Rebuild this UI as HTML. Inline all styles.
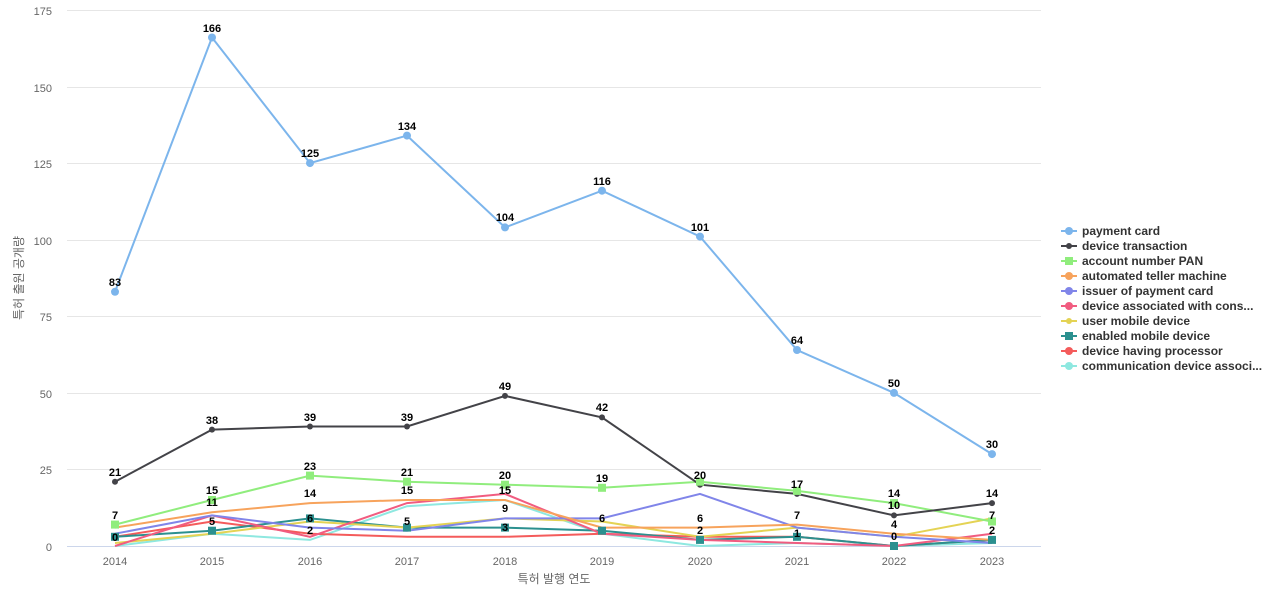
<!DOCTYPE html><html><head><meta charset="utf-8"><style>body{margin:0;background:#fff}svg{font-family:"Liberation Sans","Noto Sans CJK KR",sans-serif}</style></head><body>
<svg width="1280" height="600" xmlns="http://www.w3.org/2000/svg">
<g stroke="#e6e6e6" stroke-width="1">
<line x1="67" x2="1041" y1="10.5" y2="10.5"/><line x1="67" x2="1041" y1="87.5" y2="87.5"/><line x1="67" x2="1041" y1="163.5" y2="163.5"/><line x1="67" x2="1041" y1="240.5" y2="240.5"/><line x1="67" x2="1041" y1="316.5" y2="316.5"/><line x1="67" x2="1041" y1="393.5" y2="393.5"/><line x1="67" x2="1041" y1="469.5" y2="469.5"/>
</g>
<line x1="67" x2="1041" y1="546.5" y2="546.5" stroke="#ccd6eb"/>
<g font-size="11" fill="#666" text-anchor="end">
<text x="52" y="15">175</text><text x="52" y="92">150</text><text x="52" y="168">125</text><text x="52" y="245">100</text><text x="52" y="321">75</text><text x="52" y="398">50</text><text x="52" y="474">25</text><text x="52" y="551">0</text>
</g>
<g font-size="11" fill="#666" text-anchor="middle">
<text x="115" y="565">2014</text><text x="212" y="565">2015</text><text x="310" y="565">2016</text><text x="407" y="565">2017</text><text x="505" y="565">2018</text><text x="602" y="565">2019</text><text x="700" y="565">2020</text><text x="797" y="565">2021</text><text x="894" y="565">2022</text><text x="992" y="565">2023</text>
</g>
<text x="554" y="583" font-size="12" fill="#666" text-anchor="middle">특허 발행 연도</text>
<text transform="translate(23,278) rotate(-90)" font-size="12" fill="#666" text-anchor="middle">특허 출원 공개량</text>
<g fill="none" stroke-width="2">
<polyline stroke="#8ee8e0" points="115,546 212,533.7 310,539.9 407,506.2 505,500 602,533.7 700,546 797,543 894,546 992,543"/>
<polyline stroke="#f45b5b" points="115,536.8 212,521.5 310,533.7 407,536.8 505,536.8 602,533.7 700,536.8 797,536.8 894,546 992,539.9"/>
<polyline stroke="#2b908f" points="115,536.8 212,530.7 310,518.4 407,527.6 505,527.6 602,530.7 700,539.9 797,536.8 894,546 992,539.9"/>
<polyline stroke="#e4d354" points="115,543 212,533.7 310,521.5 407,527.6 505,518.4 602,521.5 700,536.8 797,527.6 894,536.8 992,518.4"/>
<polyline stroke="#f15c80" points="115,546 212,515.4 310,536.8 407,503.1 505,493.9 602,533.7 700,539.9 797,543 894,546 992,533.7"/>
<polyline stroke="#8085e9" points="115,533.7 212,515.4 310,527.6 407,530.7 505,518.4 602,518.4 700,493.9 797,527.6 894,536.8 992,543"/>
<polyline stroke="#f7a35c" points="115,527.6 212,512.3 310,503.1 407,500 505,500 602,527.6 700,527.6 797,524.6 894,533.7 992,539.9"/>
<polyline stroke="#90ed7d" points="115,524.6 212,500 310,475.6 407,481.7 505,484.7 602,487.8 700,481.7 797,490.9 894,503.1 992,521.5"/>
<polyline stroke="#434348" points="115,481.7 212,429.6 310,426.5 407,426.5 505,395.9 602,417.4 700,484.7 797,493.9 894,515.4 992,503.1"/>
<polyline stroke="#7cb5ec" points="115,291.8 212,37.5 310,163.1 407,135.6 505,227.4 602,190.7 700,236.6 797,350 894,392.9 992,454.1"/>
</g>
<g fill="#7cb5ec"><circle cx="115" cy="291.8" r="4"/><circle cx="212" cy="37.5" r="4"/><circle cx="310" cy="163.1" r="4"/><circle cx="407" cy="135.6" r="4"/><circle cx="505" cy="227.4" r="4"/><circle cx="602" cy="190.7" r="4"/><circle cx="700" cy="236.6" r="4"/><circle cx="797" cy="350" r="4"/><circle cx="894" cy="392.9" r="4"/><circle cx="992" cy="454.1" r="4"/></g>
<g fill="#434348"><circle cx="115" cy="481.7" r="3"/><circle cx="212" cy="429.6" r="3"/><circle cx="310" cy="426.5" r="3"/><circle cx="407" cy="426.5" r="3"/><circle cx="505" cy="395.9" r="3"/><circle cx="602" cy="417.4" r="3"/><circle cx="700" cy="484.7" r="3"/><circle cx="797" cy="493.9" r="3"/><circle cx="894" cy="515.4" r="3"/><circle cx="992" cy="503.1" r="3"/></g>
<g fill="#90ed7d"><rect x="111" y="520.6" width="8" height="8"/><rect x="208" y="496" width="8" height="8"/><rect x="306" y="471.6" width="8" height="8"/><rect x="403" y="477.7" width="8" height="8"/><rect x="501" y="480.7" width="8" height="8"/><rect x="598" y="483.8" width="8" height="8"/><rect x="696" y="477.7" width="8" height="8"/><rect x="793" y="486.9" width="8" height="8"/><rect x="890" y="499.1" width="8" height="8"/><rect x="988" y="517.5" width="8" height="8"/></g>
<g fill="#2b908f"><rect x="111" y="532.8" width="8" height="8"/><rect x="208" y="526.7" width="8" height="8"/><rect x="306" y="514.4" width="8" height="8"/><rect x="403" y="523.6" width="8" height="8"/><rect x="501" y="523.6" width="8" height="8"/><rect x="598" y="526.7" width="8" height="8"/><rect x="696" y="535.9" width="8" height="8"/><rect x="793" y="532.8" width="8" height="8"/><rect x="890" y="542" width="8" height="8"/><rect x="988" y="535.9" width="8" height="8"/></g>
<g font-size="11" font-weight="bold" fill="#000" text-anchor="middle">
<text x="115" y="286">83</text><text x="212" y="32">166</text><text x="310" y="157">125</text><text x="407" y="130">134</text><text x="505" y="221">104</text><text x="602" y="185">116</text><text x="700" y="231">101</text><text x="797" y="344">64</text><text x="894" y="387">50</text><text x="992" y="448">30</text>
<text x="115" y="476">21</text><text x="212" y="424">38</text><text x="310" y="421">39</text><text x="407" y="421">39</text><text x="505" y="390">49</text><text x="602" y="411">42</text><text x="700" y="479">20</text><text x="797" y="488">17</text><text x="894" y="497">14</text><text x="992" y="497">14</text>
<text x="115" y="519">7</text><text x="212" y="494">15</text><text x="310" y="470">23</text><text x="407" y="476">21</text><text x="505" y="479">20</text><text x="602" y="482">19</text><text x="894" y="509">10</text><text x="992" y="519">7</text>
<text x="212" y="506">11</text><text x="310" y="497">14</text><text x="407" y="494">15</text><text x="505" y="494">15</text><text x="505" y="512">9</text><text x="602" y="522">6</text><text x="700" y="522">6</text><text x="797" y="519">7</text><text x="894" y="528">4</text>
<text x="115" y="541">0</text><text x="212" y="525">5</text><text x="310" y="522">6</text><text x="310" y="534">2</text><text x="407" y="525">5</text><text x="505" y="531">3</text><text x="700" y="534">2</text><text x="797" y="537">1</text><text x="894" y="540">0</text><text x="992" y="534">2</text>
</g>
<g font-size="12" font-weight="bold" fill="#333">
<g><line x1="1061" x2="1077" y1="231" y2="231" stroke="#7cb5ec" stroke-width="2"/><circle cx="1069" cy="231" r="4" fill="#7cb5ec"/><text x="1082" y="235">payment card</text></g>
<g><line x1="1061" x2="1077" y1="246" y2="246" stroke="#434348" stroke-width="2"/><circle cx="1069" cy="246" r="3" fill="#434348"/><text x="1082" y="250">device transaction</text></g>
<g><line x1="1061" x2="1077" y1="261" y2="261" stroke="#90ed7d" stroke-width="2"/><rect x="1065" y="257" width="8" height="8" fill="#90ed7d"/><text x="1082" y="265">account number PAN</text></g>
<g><line x1="1061" x2="1077" y1="276" y2="276" stroke="#f7a35c" stroke-width="2"/><circle cx="1069" cy="276" r="4" fill="#f7a35c"/><text x="1082" y="280">automated teller machine</text></g>
<g><line x1="1061" x2="1077" y1="291" y2="291" stroke="#8085e9" stroke-width="2"/><circle cx="1069" cy="291" r="4" fill="#8085e9"/><text x="1082" y="295">issuer of payment card</text></g>
<g><line x1="1061" x2="1077" y1="306" y2="306" stroke="#f15c80" stroke-width="2"/><circle cx="1069" cy="306" r="4" fill="#f15c80"/><text x="1082" y="310">device associated with cons...</text></g>
<g><line x1="1061" x2="1077" y1="321" y2="321" stroke="#e4d354" stroke-width="2"/><circle cx="1069" cy="321" r="3" fill="#e4d354"/><text x="1082" y="325">user mobile device</text></g>
<g><line x1="1061" x2="1077" y1="336" y2="336" stroke="#2b908f" stroke-width="2"/><rect x="1065" y="332" width="8" height="8" fill="#2b908f"/><text x="1082" y="340">enabled mobile device</text></g>
<g><line x1="1061" x2="1077" y1="351" y2="351" stroke="#f45b5b" stroke-width="2"/><circle cx="1069" cy="351" r="4" fill="#f45b5b"/><text x="1082" y="355">device having processor</text></g>
<g><line x1="1061" x2="1077" y1="366" y2="366" stroke="#8ee8e0" stroke-width="2"/><circle cx="1069" cy="366" r="4" fill="#8ee8e0"/><text x="1082" y="370">communication device associ...</text></g>
</g>
</svg></body></html>
